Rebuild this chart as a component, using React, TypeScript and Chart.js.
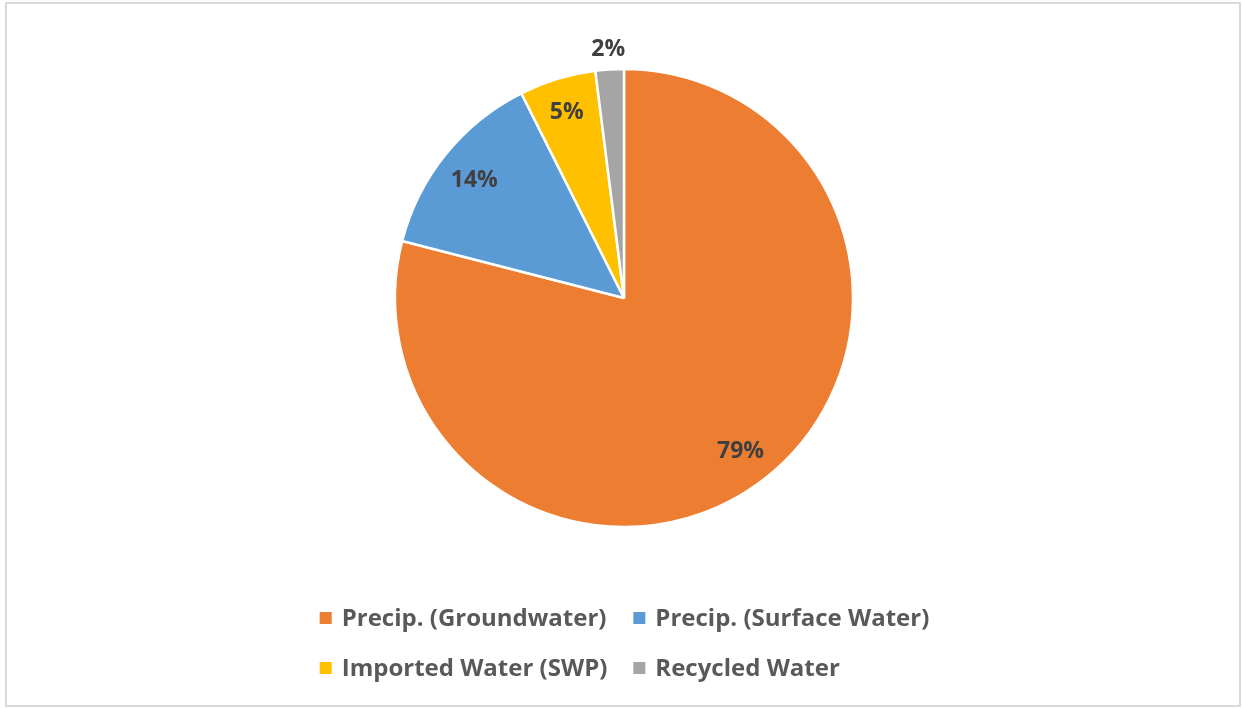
import React, { useEffect, useRef } from "react";
import { Chart, registerables } from "chart.js";

Chart.register(...registerables);

const categories = [
  "Precip. (Groundwater)",
  "Precip. (Surface Water)",
  "Imported Water (SWP)",
  "Recycled Water",
];
const values = [79.0, 13.6, 5.4, 2.0];
const colors = ["#ED7D31", "#5B9BD5", "#FFC000", "#A5A5A5"];

const FONT = "'Open Sans', sans-serif";

const framePlugin = {
  id: "frame",
  beforeDraw(chart: any) {
    const ctx = chart.ctx;
    ctx.save();
    ctx.fillStyle = "#ffffff";
    ctx.fillRect(0, 0, chart.width, chart.height);
    ctx.strokeStyle = "#D9D9D9";
    ctx.lineWidth = 2;
    ctx.strokeRect(6, 3, chart.width - 9, chart.height - 5);
    ctx.restore();
  },
};

const labelRatios = [0.83, 0.84, 0.86, 1.1];

const labelPlugin = {
  id: "sliceLabels",
  afterDatasetsDraw(chart: any) {
    const ctx = chart.ctx;
    const meta = chart.getDatasetMeta(0);
    const data = chart.data.datasets[0].data as number[];
    const total = data.reduce((a, b) => a + b, 0);
    ctx.save();
    ctx.font = `bold 23px ${FONT}`;
    ctx.fillStyle = "#404040";
    ctx.textAlign = "center";
    ctx.textBaseline = "middle";
    meta.data.forEach((arc: any, i: number) => {
      const { x, y, startAngle, endAngle, outerRadius } = arc.getProps(
        ["x", "y", "startAngle", "endAngle", "outerRadius"],
        true
      );
      const mid = (startAngle + endAngle) / 2;
      const r = outerRadius * labelRatios[i];
      const pct = Math.round((data[i] / total) * 100) + "%";
      ctx.fillText(pct, x + Math.cos(mid) * r, y + Math.sin(mid) * r + 3);
    });
    ctx.restore();
  },
};

const legendPlugin = {
  id: "gridLegend",
  afterDraw(chart: any) {
    const ctx = chart.ctx;
    ctx.save();
    ctx.font = `bold 24px ${FONT}`;
    const box = 12;
    const gap = 10;
    const colGap = 26;
    const cols = 2;
    const widths = categories.map((c) => ctx.measureText(c).width);
    const colW: number[] = [];
    for (let c = 0; c < cols; c++) {
      let m = 0;
      for (let i = c; i < categories.length; i += cols) m = Math.max(m, widths[i]);
      colW.push(box + gap + m);
    }
    const totalW = colW.reduce((a, b) => a + b, 0) + colGap * (cols - 1);
    const startX = chart.width / 2 - totalW / 2 + 3;
    const rowYs = [618, 668];
    ctx.textBaseline = "middle";
    ctx.textAlign = "left";
    categories.forEach((c, i) => {
      const col = i % cols;
      const row = Math.floor(i / cols);
      let x = startX;
      for (let k = 0; k < col; k++) x += colW[k] + colGap;
      const y = rowYs[row];
      ctx.fillStyle = colors[i];
      ctx.fillRect(x, y - box / 2, box, box);
      ctx.fillStyle = "#595959";
      ctx.fillText(c, x + box + gap, y + 1);
    });
    ctx.restore();
  },
};

export default function App() {
  const ref = useRef<HTMLCanvasElement>(null);
  useEffect(() => {
    if (!ref.current) return;
    const chart = new Chart(ref.current, {
      type: "pie",
      data: {
        labels: categories,
        datasets: [
          {
            data: values,
            backgroundColor: colors,
            borderColor: "#ffffff",
            borderWidth: 2.5,
          },
        ],
      },
      options: {
        responsive: false,
        animation: false,
        radius: 229,
        layout: { padding: { top: 71, bottom: 183, left: 300, right: 295 } },
        plugins: {
          legend: { display: false },
          tooltip: { enabled: false },
        },
      } as any,
      plugins: [framePlugin, labelPlugin, legendPlugin],
    });
    return () => chart.destroy();
  }, []);
  return (
    <div style={{ position: "fixed", left: 0, top: 0, width: 1243, height: 708 }}>
      <canvas ref={ref} width={1243} height={708} style={{ display: "block" }} />
    </div>
  );
}
